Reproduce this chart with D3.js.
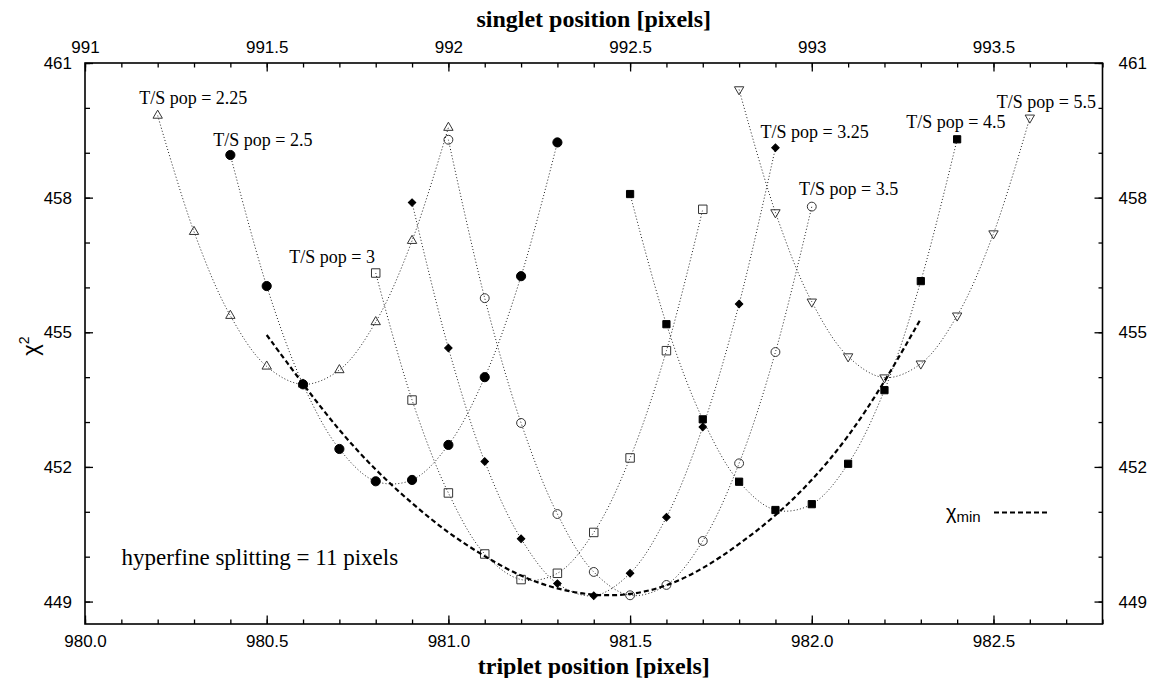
<!DOCTYPE html>
<html>
<head>
<meta charset="utf-8">
<script src="https://cdn.jsdelivr.net/npm/d3@7"></script>
<style>
  html, body { margin: 0; padding: 0; background: #fff; }
  svg { display: block; }
</style>
</head>
<body>
<svg id="chart" width="1158" height="678"></svg>
<script>
// ---------------- data ----------------
const seriesNames = ["2.25", "2.5", "3", "3.25", "3.5", "4.5", "5.5"];

const x225 = [980.2, 980.3, 980.4, 980.5, 980.6, 980.7, 980.8, 980.9, 981.0];
const y225 = [459.83, 457.24, 455.37, 454.24, 453.84, 454.16, 455.23, 457.04, 459.56];

const x25 = [980.4, 980.5, 980.6, 980.7, 980.8, 980.9, 981.0, 981.1, 981.2, 981.3];
const y25 = [458.95, 456.03, 453.84, 452.40, 451.68, 451.71, 452.49, 454.00, 456.25, 459.23];

const x3 = [980.8, 980.9, 981.0, 981.1, 981.2, 981.3, 981.4, 981.5, 981.6, 981.7];
const y3 = [456.32, 453.49, 451.42, 450.06, 449.49, 449.63, 450.54, 452.20, 454.59, 457.74];

const x325 = [980.9, 981.0, 981.1, 981.2, 981.3, 981.4, 981.5, 981.6, 981.7, 981.8, 981.9];
const y325 = [457.89, 454.65, 452.12, 450.40, 449.40, 449.13, 449.63, 450.88, 452.89, 455.63, 459.11];

const x35 = [981.0, 981.1, 981.2, 981.3, 981.4, 981.5, 981.6, 981.7, 981.8, 981.9, 982.0];
const y35 = [459.29, 455.76, 452.98, 450.95, 449.66, 449.14, 449.37, 450.35, 452.08, 454.56, 457.80];

const x45 = [981.5, 981.6, 981.7, 981.8, 981.9, 982.0, 982.1, 982.2, 982.3, 982.4];
const y45 = [458.08, 455.18, 453.06, 451.67, 451.04, 451.17, 452.07, 453.71, 456.14, 459.30];

const x55 = [981.8, 981.9, 982.0, 982.1, 982.2, 982.3, 982.4, 982.5, 982.6];
const y55 = [460.41, 457.67, 455.68, 454.46, 453.99, 454.30, 455.37, 457.20, 459.78];

// chi_min envelope (dashed)
const xChiMin = [980.5, 980.6, 980.7, 980.8, 980.9, 981.0, 981.1, 981.2, 981.3, 981.4,
                 981.5, 981.6, 981.7, 981.8, 981.9, 982.0, 982.1, 982.2, 982.3];
const yChiMin = [454.94, 453.84, 452.80, 451.92, 451.18, 450.52, 450.00, 449.55, 449.27, 449.13,
                 449.14, 449.33, 449.72, 450.27, 450.90, 451.68, 452.65, 453.88, 455.30];

// label anchors (data coordinates) for each series
const labelX = [980.149, 980.353, 980.562, 981.859, 981.965, 982.260, 982.509];
const labelY = [460.09, 459.14, 456.54, 459.32, 458.06, 459.55, 459.99];

// axis ticks
const bottomMajor = [980.0, 980.5, 981.0, 981.5, 982.0, 982.5];
const topMajor = [991, 991.5, 992, 992.5, 993, 993.5];
const yMajor = [449, 452, 455, 458, 461];

const xDomain = [980.0, 982.8];
const yDomain = [448.5, 461];
const hyperfine = 11; // singlet = triplet + hyperfine splitting

// ---------------- layout ----------------
const W = 1158, H = 678;
const margin = { left: 85, right: 55.5, top: 63, bottom: 54 };
const svg = d3.select("#chart");
const x = d3.scaleLinear().domain(xDomain).range([margin.left, W - margin.right]);
const xTop = d3.scaleLinear().domain([xDomain[0] + hyperfine, xDomain[1] + hyperfine]).range([margin.left, W - margin.right]);
const y = d3.scaleLinear().domain(yDomain).range([H - margin.bottom, margin.top]);

const sans = "'Liberation Sans', Arial, Helvetica, sans-serif";
const serif = "'Liberation Serif', 'Times New Roman', serif";

// ---------------- axes ----------------
function styleAxis(g) {
  g.select(".domain").remove();
  g.selectAll("line").attr("stroke", "#000").attr("stroke-width", 1.3);
  g.selectAll("text").attr("font-family", sans).attr("font-size", 17).attr("fill", "#000");
}
const bottomMinor = d3.range(0, 29).map(i => 980 + i / 10);
const topMinor = d3.range(0, 29).map(i => 991 + i / 10);
const yMinor = d3.range(449, 462);

const fmtB = d3.format(".1f");
const fmtT = d => (Math.round(d * 10) % 10 === 0 ? d3.format("d")(d) : d3.format(".1f")(d));

svg.append("g").attr("transform", `translate(0,${H - margin.bottom})`)
  .call(d3.axisBottom(x).tickValues(bottomMinor).tickFormat("").tickSizeInner(-4.5).tickSizeOuter(0)).call(styleAxis);
svg.append("g").attr("transform", `translate(0,${H - margin.bottom})`)
  .call(d3.axisBottom(x).tickValues(bottomMajor).tickFormat(fmtB).tickSizeInner(-8.5).tickSizeOuter(0).tickPadding(11)).call(styleAxis);

svg.append("g").attr("transform", `translate(0,${margin.top})`)
  .call(d3.axisTop(xTop).tickValues(topMinor).tickFormat("").tickSizeInner(-4.5).tickSizeOuter(0)).call(styleAxis);
svg.append("g").attr("transform", `translate(0,${margin.top})`)
  .call(d3.axisTop(xTop).tickValues(topMajor).tickFormat(fmtT).tickSizeInner(-8.5).tickSizeOuter(0).tickPadding(10)).call(styleAxis);

svg.append("g").attr("transform", `translate(${margin.left},0)`)
  .call(d3.axisLeft(y).tickValues(yMinor).tickFormat("").tickSizeInner(-5).tickSizeOuter(0)).call(styleAxis);
svg.append("g").attr("transform", `translate(${margin.left},0)`)
  .call(d3.axisLeft(y).tickValues(yMajor).tickFormat(d3.format("d")).tickSizeInner(-8).tickSizeOuter(0).tickPadding(13)).call(styleAxis);

svg.append("g").attr("transform", `translate(${W - margin.right},0)`)
  .call(d3.axisRight(y).tickValues(yMinor).tickFormat("").tickSizeInner(-4).tickSizeOuter(0)).call(styleAxis);
svg.append("g").attr("transform", `translate(${W - margin.right},0)`)
  .call(d3.axisRight(y).tickValues(yMajor).tickFormat(d3.format("d")).tickSizeInner(-8).tickSizeOuter(0).tickPadding(16)).call(styleAxis);

// frame
svg.append("rect")
  .attr("x", margin.left).attr("y", margin.top)
  .attr("width", W - margin.left - margin.right)
  .attr("height", H - margin.top - margin.bottom)
  .attr("fill", "none").attr("stroke", "#000").attr("stroke-width", 1.6);

// axis titles
svg.append("text").attr("x", x(981.4)).attr("y", 27)
  .attr("text-anchor", "middle").attr("font-family", serif).attr("font-weight", "bold")
  .attr("font-size", 24).text("singlet position [pixels]");
svg.append("text").attr("x", x(981.4)).attr("y", 674)
  .attr("text-anchor", "middle").attr("font-family", serif).attr("font-weight", "bold")
  .attr("font-size", 24).text("triplet position [pixels]");
const yl = svg.append("text").attr("transform", "translate(38,346) rotate(-90)")
  .attr("text-anchor", "middle").attr("font-family", sans).attr("font-size", 22);
yl.append("tspan").text("χ");
yl.append("tspan").attr("dy", -9).attr("font-size", 14).text("2");

// ---------------- series ----------------
const seriesX = [x225, x25, x3, x325, x35, x45, x55];
const seriesY = [y225, y25, y3, y325, y35, y45, y55];
const markerType = [
  { sym: d3.symbolTriangle, size: 38, fill: false, rot: 0 },
  { sym: d3.symbolCircle, size: 66, fill: true, rot: 0 },
  { sym: d3.symbolSquare, size: 72, fill: false, rot: 0 },
  { sym: d3.symbolSquare, size: 28, fill: true, rot: 45 },
  { sym: d3.symbolCircle, size: 62, fill: false, rot: 0 },
  { sym: d3.symbolSquare, size: 52, fill: true, rot: 0 },
  { sym: d3.symbolTriangle, size: 38, fill: false, rot: 180 }
];

const line = d3.line().x(d => x(d[0])).y(d => y(d[1])).curve(d3.curveCatmullRom.alpha(0.5));
const smoothLine = d3.line().x(d => x(d[0])).y(d => y(d[1])).curve(d3.curveBasis);

const gLines = svg.append("g");
const gMarks = svg.append("g");
seriesNames.forEach((name, i) => {
  const pts = seriesX[i].map((xv, j) => [xv, seriesY[i][j]]);
  gLines.append("path").datum(pts).attr("d", line)
    .attr("fill", "none").attr("stroke", "#222").attr("stroke-width", 1)
    .attr("stroke-dasharray", "1,2.2");
  const m = markerType[i];
  gMarks.selectAll(null).data(pts).enter().append("path")
    .attr("transform", d => `translate(${x(d[0])},${y(d[1])}) rotate(${m.rot})`)
    .attr("d", d3.symbol().type(m.sym).size(m.size))
    .attr("fill", m.fill ? "#000" : "none")
    .attr("stroke", m.fill ? "#000" : "#333")
    .attr("stroke-width", 1);
  svg.append("text").attr("x", x(labelX[i])).attr("y", y(labelY[i]))
    .attr("font-family", serif).attr("font-size", 18).attr("fill", "#000")
    .text(`T/S pop = ${name}`);
});

// chi_min dashed curve
const chiPts = xChiMin.map((xv, j) => [xv, yChiMin[j]]);
svg.append("path").datum(chiPts).attr("d", smoothLine)
  .attr("fill", "none").attr("stroke", "#000").attr("stroke-width", 2.2)
  .attr("stroke-dasharray", "5,3");

// legend
const lg = svg.append("text").attr("x", 946).attr("y", 519)
  .attr("font-family", sans).attr("font-size", 20);
lg.append("tspan").text("χ");
lg.append("tspan").attr("dy", 3).attr("font-size", 15).text("min");
svg.append("line").attr("x1", 994).attr("x2", 1048).attr("y1", 512.5).attr("y2", 512.5)
  .attr("stroke", "#000").attr("stroke-width", 2).attr("stroke-dasharray", "5,3");

// annotation
svg.append("text").attr("x", 121.5).attr("y", 565)
  .attr("font-family", serif).attr("font-size", 23).attr("fill", "#000")
  .text("hyperfine splitting = 11 pixels");
</script>
</body>
</html>
